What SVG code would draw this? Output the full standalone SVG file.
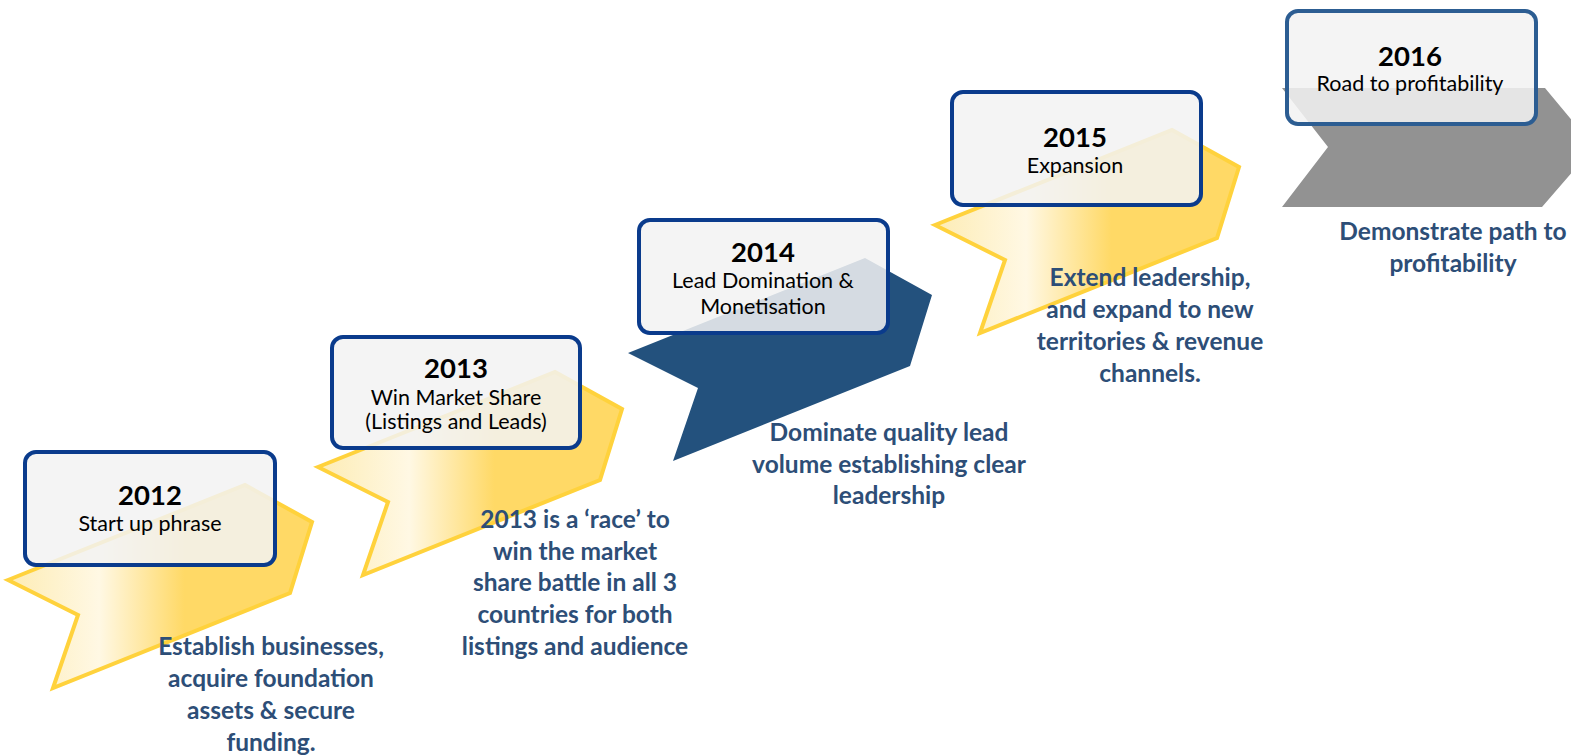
<svg xmlns="http://www.w3.org/2000/svg" width="1571" height="756" viewBox="0 0 1571 756">
  <style>
    .box { fill: #f2f2f2; fill-opacity: 0.86; stroke: #0a3b8c; stroke-width: 4; }
    .box2016 { stroke: #2c5d92; }
    .year { font-family: Lato, "Liberation Sans", sans-serif; font-weight: bold; font-size: 27.5px; fill: #000; text-anchor: middle; }
    .sub { font-family: Lato, "Liberation Sans", sans-serif; font-size: 21.5px; fill: #000; text-anchor: middle; }
    .desc { font-family: Lato, "Liberation Sans", sans-serif; font-weight: bold; font-size: 24.5px; fill: #2d4e77; text-anchor: middle; }
    .yellow { fill: url(#yellowGrad); stroke: #ffd23c; stroke-width: 4; stroke-linejoin: miter; }
  </style>
  <defs>
    <linearGradient id="yellowGrad" x1="0" y1="0" x2="1" y2="0">
      <stop offset="0" stop-color="#fdecb4"/>
      <stop offset="0.3" stop-color="#fff8e4"/>
      <stop offset="0.58" stop-color="#ffd966"/>
      <stop offset="1" stop-color="#ffd966"/>
    </linearGradient>
    <!-- slanted ribbon arrow used for each step -->
    <path id="ribbon" d="M8,580 L245,485 L312,522 L290,593 L53,688 L78,615 Z"/>
  </defs>

  <!-- step arrows -->
  <g id="arrows">
    <use href="#ribbon" class="yellow"/>
    <use href="#ribbon" class="yellow" transform="translate(310,-113)"/>
    <use href="#ribbon" fill="#23517d" transform="translate(620,-227)"/>
    <use href="#ribbon" class="yellow" transform="translate(927,-355)"/>
    <path d="M1282,88 L1545,88 L1594,147 L1542,207 L1282,207 L1328,147 Z" fill="#929292"/>
  </g>

  <g id="step2012">
    <rect class="box" x="25" y="452" width="250" height="113" rx="11"/>
    <text class="year" x="150" y="505">2012</text>
    <text class="sub" x="150" y="531">Start up phrase</text>
    <text class="desc" x="271" y="655">Establish businesses,</text>
    <text class="desc" x="271" y="687">acquire foundation</text>
    <text class="desc" x="271" y="719">assets &amp; secure</text>
    <text class="desc" x="271" y="751">funding.</text>
  </g>

  <g id="step2013">
    <rect class="box" x="332" y="337" width="248" height="111" rx="11"/>
    <text class="year" x="456" y="378">2013</text>
    <text class="sub" x="456" y="405">Win Market Share</text>
    <text class="sub" x="456" y="429">(Listings and Leads)</text>
    <text class="desc" x="575" y="528">2013 is a ‘race’ to</text>
    <text class="desc" x="575" y="560">win the market</text>
    <text class="desc" x="575" y="591">share battle in all 3</text>
    <text class="desc" x="575" y="623">countries for both</text>
    <text class="desc" x="575" y="655">listings and audience</text>
  </g>

  <g id="step2014">
    <rect class="box" x="639" y="220" width="249" height="113" rx="11"/>
    <text class="year" x="763" y="262">2014</text>
    <text class="sub" x="763" y="288">Lead Domination &amp;</text>
    <text class="sub" x="763" y="314">Monetisation</text>
    <text class="desc" x="889" y="441">Dominate quality lead</text>
    <text class="desc" x="889" y="473">volume establishing clear</text>
    <text class="desc" x="889" y="504">leadership</text>
  </g>

  <g id="step2015">
    <rect class="box" x="952" y="92" width="249" height="113" rx="11"/>
    <text class="year" x="1075" y="147">2015</text>
    <text class="sub" x="1075" y="173">Expansion</text>
    <text class="desc" x="1150" y="286">Extend leadership,</text>
    <text class="desc" x="1150" y="318">and expand to new</text>
    <text class="desc" x="1150" y="350">territories &amp; revenue</text>
    <text class="desc" x="1150" y="382">channels.</text>
  </g>

  <g id="step2016">
    <rect class="box box2016" x="1287" y="11" width="249" height="113" rx="11"/>
    <text class="year" x="1410" y="66">2016</text>
    <text class="sub" x="1410" y="91">Road to profitability</text>
    <text class="desc" x="1453" y="240">Demonstrate path to</text>
    <text class="desc" x="1453" y="272">profitability</text>
  </g>
</svg>
